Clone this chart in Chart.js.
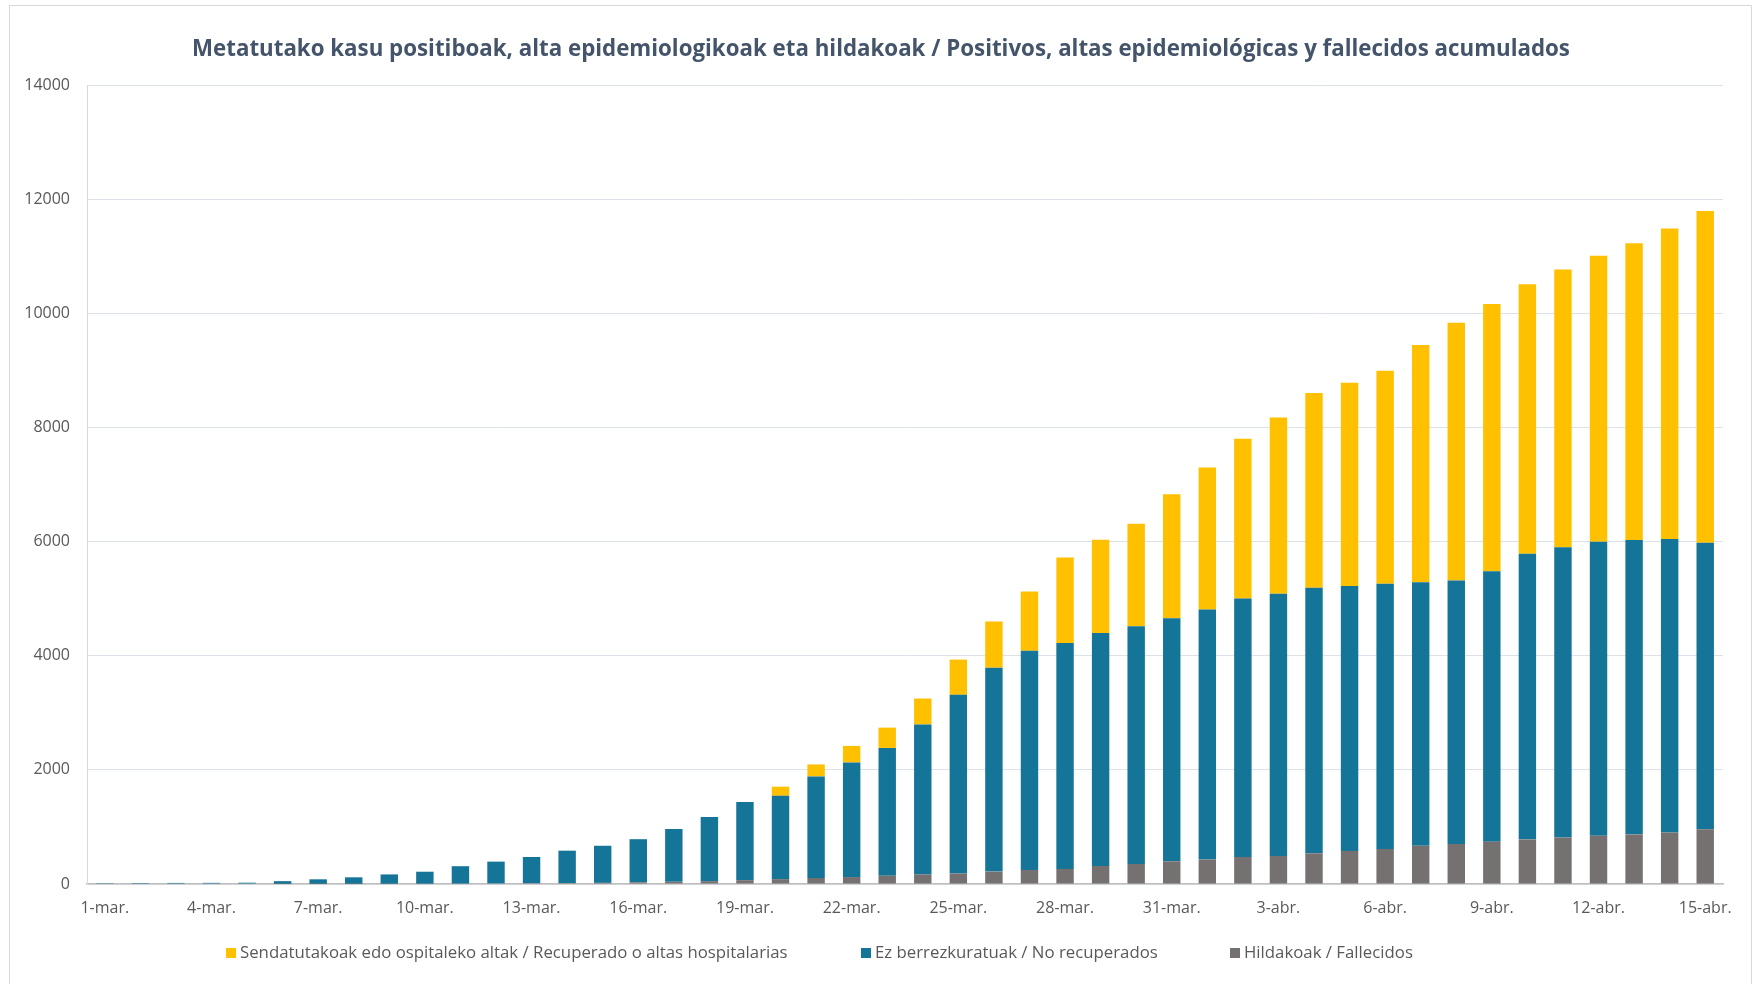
<!DOCTYPE html>
<html>
<head>
<meta charset="utf-8">
<script src="https://cdn.jsdelivr.net/npm/chart.js@4.4.0/dist/chart.umd.min.js"></script>
<style>
  body { margin: 0; background: #fff; }
  #frame { position: absolute; left: 9px; top: 5px; width: 1741px; height: 990px; border: 1px solid #d9d9d9; }
  #chart { position: absolute; left: 0; top: 0; }
  #title { position: absolute; left: 3px; top: 33px; width: 1756px; text-align: center; font: bold 22.3px 'Open Sans', sans-serif; color: #44546a; line-height: 30px; }
  .leg { position: absolute; top: 940px; font: 16.8px 'Open Sans', sans-serif; color: #595959; white-space: nowrap; line-height: 24px; }
  .leg span { display: inline-block; width: 10px; height: 10px; margin-right: 4px; vertical-align: 0px; }
</style>
</head>
<body>
<div id="frame"></div>
<canvas id="chart" width="1756" height="984"></canvas>
<div id="title">Metatutako kasu positiboak, alta epidemiologikoak eta hildakoak / Positivos, altas epidemiológicas y fallecidos acumulados</div>
<div id="legend"></div>
<script>
const days = [
  '1-mar.','2-mar.','3-mar.','4-mar.','5-mar.','6-mar.','7-mar.','8-mar.','9-mar.','10-mar.',
  '11-mar.','12-mar.','13-mar.','14-mar.','15-mar.','16-mar.','17-mar.','18-mar.','19-mar.','20-mar.',
  '21-mar.','22-mar.','23-mar.','24-mar.','25-mar.','26-mar.','27-mar.','28-mar.','29-mar.','30-mar.',
  '31-mar.','1-abr.','2-abr.','3-abr.','4-abr.','5-abr.','6-abr.','7-abr.','8-abr.','9-abr.',
  '10-abr.','11-abr.','12-abr.','13-abr.','14-abr.','15-abr.'
];

// hildakoak / fallecidos
const fallecidos = [
  0, 0, 0, 0, 0, 1, 1, 2, 4, 5,
  7, 10, 14, 17, 20, 30, 38, 50, 68, 85,
  105, 122, 145, 168, 184, 217, 246, 264, 316, 351,
  398, 428, 474, 492, 538, 580, 613, 669, 701, 742,
  782, 814, 846, 870, 903, 959
];

// ez berrezkuratuak / no recuperados
const noRecuperados = [
  15, 17, 19, 20, 23, 49, 81, 115, 164, 210,
  305, 382, 459, 567, 650, 755, 924, 1122, 1367, 1460,
  1780, 2008, 2240, 2627, 3131, 3573, 3842, 3959, 4083, 4165,
  4258, 4381, 4528, 4592, 4652, 4643, 4650, 4618, 4619, 4739,
  5005, 5086, 5151, 5159, 5142, 5022
];

// sendatutakoak / recuperados
const recuperados = [
  0, 0, 0, 0, 0, 0, 0, 0, 0, 0,
  0, 0, 0, 0, 0, 0, 0, 0, 0, 160,
  210, 290, 355, 455, 617, 810, 1037, 1499, 1634, 1798,
  2173, 2489, 2800, 3092, 3415, 3562, 3732, 4159, 4513, 4683,
  4723, 4868, 5013, 5199, 5441, 5811
];

const yTicks = [0, 2000, 4000, 6000, 8000, 10000, 12000, 14000];

const tickFont = { family: "'Open Sans', sans-serif", size: 16 };

const chart = new Chart(document.getElementById('chart'), {
  type: 'bar',
  data: {
    labels: days,
    datasets: [
      { label: 'Hildakoak / Fallecidos', data: fallecidos, backgroundColor: '#767171' },
      { label: 'Ez berrezkuratuak / No recuperados', data: noRecuperados, backgroundColor: '#157599' },
      { label: 'Sendatutakoak edo ospitaleko altak / Recuperado o altas hospitalarias', data: recuperados, backgroundColor: '#FFC000' }
    ]
  },
  options: {
    responsive: false,
    animation: false,
    devicePixelRatio: 1,
    layout: { padding: { left: 0, right: 33, top: 85, bottom: 0 } },
    datasets: { bar: { barPercentage: 0.49, categoryPercentage: 1 } },
    plugins: {
      legend: { display: false },
      tooltip: { enabled: false },
      title: { display: false }
    },
    scales: {
      x: {
        stacked: true,
        grid: { display: false, drawTicks: false },
        border: { color: '#bfbfbf', width: 1.5 },
        ticks: {
          autoSkip: false,
          maxRotation: 0,
          padding: 15,
          color: '#595959',
          font: tickFont,
          callback: function (v, i) { return i % 3 === 0 ? this.getLabelForValue(v) : ''; }
        },
        afterFit: s => { s.height = 100; }
      },
      y: {
        stacked: true,
        min: 0,
        max: 14000,
        afterBuildTicks: s => { s.ticks = yTicks.map(v => ({ value: v })); },
        grid: { color: '#dde1e8', drawTicks: false },
        border: { color: '#d9d9d9' },
        ticks: { padding: 17, color: '#595959', font: tickFont, callback: v => String(v) },
        afterFit: s => { s.width = 87; }
      }
    }
  }
});

// legend in the same order as the original (top of the stack first)
const legendLeft = [226, 861, 1230];
const legendBox = document.getElementById('legend');
chart.data.datasets.slice().reverse().forEach((ds, i) => {
  const item = document.createElement('div');
  item.className = 'leg';
  item.style.left = legendLeft[i] + 'px';
  item.innerHTML = '<span style="background:' + ds.backgroundColor + '"></span>' + ds.label;
  legendBox.appendChild(item);
});
</script>
</body>
</html>
